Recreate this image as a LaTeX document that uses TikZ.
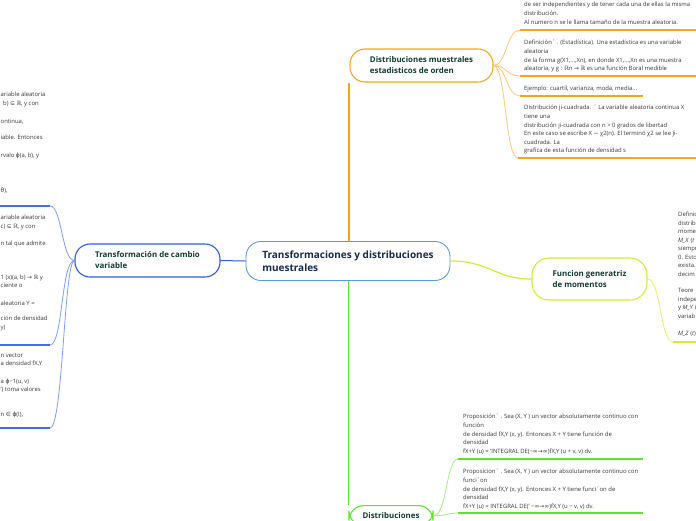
\documentclass[tikz,border=0pt]{standalone}
\usepackage{fontspec}
\setmainfont{Open Sans}
\newfontfamily\symf{DejaVu Sans}
\newcommand{\sy}[1]{{\symf #1}}
\definecolor{txtc}{HTML}{3A3A3A}
\definecolor{navy}{HTML}{172B4D}
\definecolor{dgreen}{HTML}{0F3D33}
\definecolor{cblue}{HTML}{5A9BE6}
\definecolor{lblue}{HTML}{2A5DE8}
\definecolor{ulblue}{HTML}{3D6EF5}
\definecolor{cvblue}{HTML}{7B9FF7}
\definecolor{orng}{HTML}{F8A51C}
\definecolor{orngl}{HTML}{FDC870}
\definecolor{ylw}{HTML}{D6EE2E}
\definecolor{ylwl}{HTML}{E4F56A}
\definecolor{grn}{HTML}{5EE62B}
\definecolor{grnl}{HTML}{9EF27A}
\begin{document}
\begin{tikzpicture}[x=1pt,y=-1pt,
  txt/.style={font=\fontsize{5.9}{8.6}\selectfont, text=txtc, inner sep=0pt, align=left, anchor=north west},
  lft/.style={font=\fontsize{5.9}{8.6}\selectfont, text=txtc, inner sep=0pt, anchor=west, text height=4.2pt, text depth=1.2pt},
  mainbox/.style={draw=cblue, line width=0.9pt, rounded corners=15pt, minimum width=204pt, minimum height=39pt, align=left, inner sep=0pt, font=\fontsize{10}{13.5}\selectfont\bfseries, text=navy},
  subbox/.style={rounded corners=15pt, line width=1.1pt, align=left, inner sep=0pt, font=\fontsize{7.9}{11}\selectfont\bfseries, text=dgreen},
  ul/.style={line width=2pt},
  cthin/.style={line width=0.8pt}
]
\clip (0,0) rectangle (696,520);
\fill[white] (0,0) rectangle (696,520);

% main nodes
\node[mainbox] (central) at (348,261) {Transformaciones y distribuciones\\muestrales};
\node[subbox, draw=lblue, minimum width=145pt, minimum height=33pt] (left) at (147.5,260.5) {Transformación de cambio\\variable};
\node[subbox, draw=orng, minimum width=143pt, minimum height=33pt] (ornode) at (421.5,65.5) {Distribuciones muestrales\\estadisticos de orden};
\node[subbox, draw=ylw, rounded corners=17pt, minimum width=115pt, minimum height=42pt] (fun) at (589.5,279) {Funcion generatriz\\de momentos};
\node[subbox, draw=grn, minimum width=84pt, inner ysep=7pt, anchor=north] (grnode) at (391,505) {Distribuciones};

% main connectors
\draw[line width=1pt, draw=lblue] (central.west) -- (left.east);
\draw[line width=2pt, color=orng] (central.north -| ornode.south west) -- (ornode.south west);
\draw[line width=1.8pt, color=grn] (grnode.north west) -- (grnode.north west |- central.south);
\draw[line width=1.2pt, draw=ylw] (central.east) .. controls (490,261) and (495,279) .. (fun.west);

% left leaves
\coordinate (lu1) at (50,206);
\coordinate (lu2) at (50,345);
\coordinate (lu3) at (50,428);
\draw[ul, draw=ulblue] (lu1) -- (0,206);
\draw[ul, draw=ulblue] (lu2) -- (0,345);
\draw[ul, draw=ulblue] (lu3) -- (0,428);
\draw[cthin, draw=cvblue] (left.west) .. controls (62,261) and (62,206) .. (lu1);
\draw[cthin, draw=cvblue] (left.west) .. controls (61,261) and (63,345) .. (lu2);
\draw[cthin, draw=cvblue] (left.west) .. controls (64,261) and (63,428) .. (lu3);

\node[lft] (a1) at (0.5,95) {ariable aleatoria};
\node[lft] (a2) at (3,104) {b) \sy{⊆} \sy{ℝ}, y con};
\node[lft] (a3) at (0.5,122) {ontinua,};
\node[lft] (a4) at (0.5,138) {iable. Entonces};
\node[lft] (a5) at (0.5,156) {rvalo \sy{ϕ}(a, b), y};
\node[lft] (a6) at (0.5,191) {\sy{θ}),};

\node[lft] (b1) at (0.5,218) {ariable aleatoria};
\node[lft] (b2) at (0.5,227) {c) \sy{⊆} \sy{ℝ}, y con};
\node[lft] (b3) at (0.5,244) {n tal que admite};
\node[lft] (b4) at (0.5,278) {1 (x)(a, b) \sy{→} \sy{ℝ} y};
\node[lft] (b5) at (0.5,286) {ciente o};
\node[lft] (b6) at (0.5,304) {aleatoria Y =};
\node[lft] (b7) at (0.5,319) {ción de densidad};
\node[lft] (b8) at (0.5,328) {y)};

\node[lft] (c1) at (0.5,356) {n vector};
\node[lft] (c2) at (0.5,364) {a densidad fX,Y};
\node[lft] (c3) at (0.5,382) {a \sy{ϕ}−1(u, v)};
\node[lft] (c4) at (0.5,390) {’) toma valores};
\node[lft] (c5) at (0.5,415) {n \sy{∈} \sy{ϕ}(I),};

% orange leaves
\coordinate (oa) at (520,30);
\coordinate (ob) at (520,76);
\coordinate (oc) at (520,96);
\coordinate (od) at (518,158);
\draw[ul, draw=orng] (oa) -- (696,30);
\draw[ul, draw=orng] (ob) -- (696,76);
\draw[ul, draw=orng] (oc) -- (643,96);
\draw[ul, draw=orng] (od) -- (696,158);
\draw[cthin, draw=orngl] (ornode.east) .. controls (507,65.5) and (506,30) .. (oa);
\draw[cthin, draw=orngl] (ornode.east) .. controls (507,65.5) and (506,76) .. (ob);
\draw[cthin, draw=orngl] (ornode.east) .. controls (507,65.5) and (506,96) .. (oc);
\draw[cthin, draw=orngl] (ornode.east) .. controls (506,65.5) and (505,158) .. (od);

\node[txt] (ta) at (524,2.2) {de ser independientes y de tener cada una de ellas la misma\\distribución.\\Al numero n se le llama tamaño de la muestra aleatoria.};
\node[txt] (tb) at (524,40.2) {Definición´ . (Estadística). Una estadística es una variable\\aleatoria\\de la forma g(X1,...,Xn), en donde X1,...,Xn es una muestra\\aleatoria, y g : \sy{ℝ}n \sy{→} \sy{ℝ} es una función Boral medible};
\node[txt] (tc) at (524,86.2) {Ejemplo: cuartil, varianza, moda, media...};
\node[txt] (td) at (524,105.2) {Distribución ji-cuadrada. ´ La variable aleatoria continua X\\tiene una\\distribución ji-cuadrada con n > 0 grados de libertad\\En este caso se escribe X \sy{∼} χ2(n). El terminó χ2 se lee ji-\\cuadrada. La\\grafica de esta función de densidad s};

% funcion leaf
\coordinate (fu) at (673,342);
\draw[ul, draw=ylw] (fu) -- (696,342);
\draw[cthin, draw=ylwl] (fun.east) .. controls (661,279) and (660,342) .. (fu);
\node[txt, font=\fontsize{5.9}{8.45}\selectfont] (tf) at (678,212.2) {Definic\\distrib\\mome\\\textit{M\_X} (\textit{t}\\siempr\\0. Esto\\exista.\\decim\\\mbox{}\\Teore\\indepe\\y \textit{M\_Y} (\\variab\\\mbox{}\\\textit{M\_Z} (\textit{t})};

% green leaves
\coordinate (g1) at (458,459);
\coordinate (g2) at (458,513);
\draw[ul, draw=grn] (g1) -- (643,459);
\draw[ul, draw=grn] (g2) -- (643,513);
\draw[cthin, draw=grnl] (grnode.east) .. controls (447,516) and (446,459) .. (g1);
\draw[cthin, draw=grnl] (grnode.east) .. controls (447,516) and (446,513) .. (g2);

\node[txt] (tg1) at (463,414.2) {Proposición´ . Sea (X, Y ) un vector absolutamente continuo con\\función\\de densidad fX,Y (x, y). Entonces X + Y tiene función de\\densidad\\fX+Y (u) = 'INTEGRAL DE(−\sy{∞}\sy{→}\sy{∞})fX,Y (u + v, v) dv.};
\node[txt] (tg2) at (463,469.2) {Proposicion´ . Sea (X, Y ) un vector absolutamente continuo con\\funci´on\\de densidad fX,Y (x, y). Entonces X + Y tiene funci´on de\\densidad\\fX+Y (u) = INTEGRAL DE(' −\sy{∞}\sy{→}\sy{∞})fX,Y (u − v, v) dv.};
\end{tikzpicture}
\end{document}
